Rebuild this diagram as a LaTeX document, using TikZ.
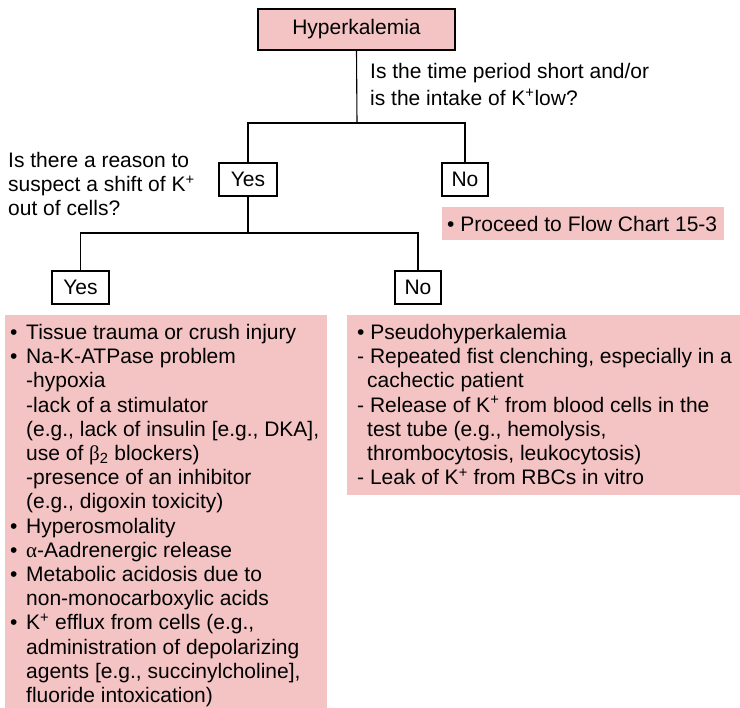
\documentclass[tikz,border=0pt]{standalone}
\usepackage{fontspec}
\setmainfont{Liberation Sans}
\newfontfamily\grk{Liberation Serif}
\definecolor{boxpink}{RGB}{244,195,196}
\begin{document}
\begin{tikzpicture}[x=1pt,y=-1pt,
  every node/.style={font=\fontsize{21}{24.2}\selectfont, inner sep=0pt},
  pinkbox/.style={draw=none, fill=boxpink, rectangle},
  choice/.style={draw=black, line width=1.1pt, fill=white, minimum height=33pt},
  qtext/.style={align=left, anchor=north west},
  conn/.style={line width=1.1pt}]
\useasboundingbox (0,0) rectangle (740,708);
\newcommand{\bul}{\makebox[16pt][l]{•}}
\newcommand{\ind}{\hspace*{16pt}}
% top
\node[pinkbox, draw=black, line width=1.1pt, minimum width=197pt, minimum height=41pt] (hyp) at (356.5,29.5) {Hyperkalemia};
\node[qtext, font=\fontsize{21}{27}\selectfont] (q1) at (370,63) {Is the time period short and/or\\is the intake of K\textsuperscript{+}low?};
\coordinate (j1) at (357,123);
\node[choice, minimum width=58pt] (yes1) at (248,179.5) {Yes};
\node[choice, minimum width=46pt] (no1) at (465,179.5) {No};
\node[qtext] (q2) at (8,152) {Is there a reason to\\suspect a shift of K\textsuperscript{+}\\out of cells?};
\node[pinkbox, minimum width=282pt, minimum height=33pt, anchor=west] (proc) at (442,223.5) {};
\node[anchor=west] (proct) at (447,223.5) {• Proceed to Flow Chart 15-3};
\coordinate (j2) at (248,233);
\node[choice, minimum width=57pt] (yes2) at (80.5,287.5) {Yes};
\node[choice, minimum width=46pt] (no2) at (418,287.5) {No};
% connectors
\draw[conn] (hyp.south) -- (j1);
\draw[conn] (yes1.north) |- (j1) -| (no1.north);
\draw[conn] (yes1.south) -- (j2);
\draw[conn] (yes2.north) |- (j2) -| (no2.north);
% result boxes
\node[pinkbox, minimum width=322pt, minimum height=393pt, anchor=north west] (lbox) at (5,315) {};
\node[qtext] (ltxt) at (10,324) {%
\bul Tissue trauma or crush injury\\
\bul Na-K-ATPase problem\\
\ind -hypoxia\\
\ind -lack of a stimulator\\
\ind (e.g., lack of insulin [e.g., DKA],\\
\ind use of {\grk β}\textsubscript{2} blockers)\\
\ind -presence of an inhibitor\\
\ind (e.g., digoxin toxicity)\\
\bul Hyperosmolality\\
\bul {\grk α}-Aadrenergic release\\
\bul Metabolic acidosis due to\\
\ind non-monocarboxylic acids\\
\bul K\textsuperscript{+} efflux from cells (e.g.,\\
\ind administration of depolarizing\\
\ind agents [e.g., succinylcholine],\\
\ind fluoride intoxication)};
\node[pinkbox, minimum width=393pt, minimum height=180pt, anchor=north west] (rbox) at (347,315) {};
\node[qtext] (rtxt) at (357,324) {%
• Pseudohyperkalemia\\
- Repeated fist clenching, especially in a\\
\hspace*{10pt}cachectic patient\\
- Release of K\textsuperscript{+} from blood cells in the\\
\hspace*{10pt}test tube (e.g., hemolysis,\\
\hspace*{10pt}thrombocytosis, leukocytosis)\\
- Leak of K\textsuperscript{+} from RBCs in vitro};
\end{tikzpicture}
\end{document}
